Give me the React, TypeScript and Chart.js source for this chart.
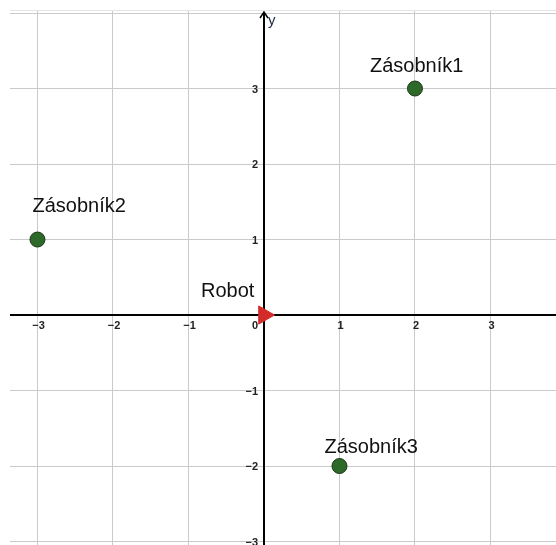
import React, { useEffect, useRef } from "react";
import { Chart, registerables } from "chart.js";

Chart.register(...registerables);

// ---- data ----
const storageNames = ["Zásobník1", "Zásobník2", "Zásobník3"];
const storageX = [2, -3, 1];
const storageY = [3, 1, -2];
const robotNames = ["Robot"];
const robotX = [0];
const robotY = [0];
const xTickValues = [-3, -2, -1, 0, 1, 2, 3];
const yTickValues = [-3, -2, -1, 1, 2, 3];
const yAxisTitle = "y";

// ---- view / style ----
const X_MIN = -3.364;
const X_MAX = 3.868;
const Y_MIN = -3.046;
const Y_MAX = 4.04;
// label offsets in px (left edge, baseline) relative to the point
const STORAGE_LABEL_OFFSETS = [
  [-45, -17],
  [-5, -28],
  [-15, -13],
];
const ROBOT_LABEL_OFFSETS = [[-63, -18]];

const fmt = (v: number) => (v < 0 ? "\u2212" + Math.abs(v) : String(v));

const overlayPlugin = {
  id: "overlay",
  beforeDatasetsDraw(chart: any) {
    const { ctx, chartArea, scales } = chart;
    const xs = scales.x;
    const ys = scales.y;
    const x0 = Math.round(xs.getPixelForValue(0));
    const y0 = Math.round(ys.getPixelForValue(0));
    ctx.save();
    // faint top border
    ctx.strokeStyle = "#e4e4e4";
    ctx.lineWidth = 1;
    ctx.beginPath();
    ctx.moveTo(chartArea.left, chartArea.top + 0.5);
    ctx.lineTo(chartArea.right, chartArea.top + 0.5);
    ctx.stroke();
    // axes
    ctx.strokeStyle = "#000";
    ctx.lineWidth = 2;
    ctx.beginPath();
    ctx.moveTo(chartArea.left, y0);
    ctx.lineTo(chartArea.right, y0);
    ctx.moveTo(x0, chartArea.top + 2);
    ctx.lineTo(x0, chartArea.bottom);
    ctx.stroke();
    // arrow on y axis
    ctx.lineWidth = 1.5;
    ctx.beginPath();
    ctx.moveTo(x0 - 4, chartArea.top + 8);
    ctx.lineTo(x0, chartArea.top + 2);
    ctx.lineTo(x0 + 4, chartArea.top + 8);
    ctx.stroke();
    // axis title
    ctx.fillStyle = "#1e2a44";
    ctx.font = "15px 'Liberation Sans', Arial, sans-serif";
    ctx.textAlign = "left";
    ctx.textBaseline = "alphabetic";
    ctx.fillText(yAxisTitle, x0 + 4, chartArea.top + 15);
    // tick labels
    ctx.fillStyle = "#222";
    ctx.font = "bold 11px 'Liberation Sans', Arial, sans-serif";
    ctx.textBaseline = "middle";
    xTickValues.forEach((v) => {
      const px = xs.getPixelForValue(v);
      if (v === 0) {
        ctx.textAlign = "right";
        ctx.fillText(fmt(v), x0 - 6, y0 + 11);
      } else {
        ctx.textAlign = "center";
        ctx.fillText(fmt(v), px + 1, y0 + 11);
      }
    });
    ctx.textAlign = "right";
    yTickValues.forEach((v) => {
      const py = ys.getPixelForValue(v);
      ctx.fillText(fmt(v), x0 - 6, py + 1);
    });
    ctx.restore();
  },
  afterDatasetsDraw(chart: any) {
    const { ctx, scales } = chart;
    const xs = scales.x;
    const ys = scales.y;
    ctx.save();
    ctx.fillStyle = "#111";
    ctx.font = "20px 'Liberation Sans', Arial, sans-serif";
    ctx.textAlign = "left";
    ctx.textBaseline = "alphabetic";
    storageNames.forEach((name, i) => {
      const px = xs.getPixelForValue(storageX[i]);
      const py = ys.getPixelForValue(storageY[i]);
      const [dx, dy] = STORAGE_LABEL_OFFSETS[i];
      ctx.fillText(name, px + dx, py + dy);
    });
    robotNames.forEach((name, i) => {
      const px = xs.getPixelForValue(robotX[i]);
      const py = ys.getPixelForValue(robotY[i]);
      const [dx, dy] = ROBOT_LABEL_OFFSETS[i];
      ctx.fillText(name, px + dx, py + dy);
    });
    ctx.restore();
  },
};

export default function App() {
  const canvasRef = useRef<HTMLCanvasElement | null>(null);

  useEffect(() => {
    if (!canvasRef.current) return;
    const chart = new Chart(canvasRef.current, {
      type: "scatter",
      data: {
        datasets: [
          {
            label: "Zásobníky",
            data: storageX.map((x, i) => ({ x, y: storageY[i] })),
            pointStyle: "circle",
            pointRadius: 7.5,
            pointHoverRadius: 7.5,
            backgroundColor: "#2d6a2a",
            borderColor: "#1b3318",
            borderWidth: 1,
            clip: false,
          },
          {
            label: "Robot",
            data: robotX.map((x, i) => ({ x, y: robotY[i] })),
            pointStyle: "triangle",
            rotation: 90,
            pointRadius: 10.5,
            pointHoverRadius: 10.5,
            backgroundColor: "#d32a2a",
            borderColor: "#d32a2a",
            borderWidth: 1,
            clip: false,
          },
        ],
      },
      options: {
        animation: false,
        responsive: false,
        maintainAspectRatio: false,
        layout: {
          autoPadding: false,
          padding: { left: 10, top: 10, right: 0, bottom: 0 },
        },
        plugins: {
          legend: { display: false },
          tooltip: { enabled: false },
        },
        scales: {
          x: {
            type: "linear",
            min: X_MIN,
            max: X_MAX,
            position: "bottom",
            afterFit: (s: any) => {
              s.height = 0;
            },
            ticks: { display: false, stepSize: 1, includeBounds: false },
            grid: { color: "#cacaca", lineWidth: 1, drawTicks: false },
            border: { display: false },
          },
          y: {
            type: "linear",
            min: Y_MIN,
            max: Y_MAX,
            position: "left",
            afterFit: (s: any) => {
              s.width = 0;
            },
            ticks: { display: false, stepSize: 1, includeBounds: false },
            grid: { color: "#cacaca", lineWidth: 1, drawTicks: false },
            border: { display: false },
          },
        },
      },
      plugins: [overlayPlugin],
    });
    return () => chart.destroy();
  }, []);

  return (
    <div
      style={{
        position: "fixed",
        left: 0,
        top: 0,
        width: 556,
        height: 545,
        background: "#fff",
      }}
    >
      <canvas ref={canvasRef} width={556} height={545} style={{ display: "block" }} />
    </div>
  );
}
